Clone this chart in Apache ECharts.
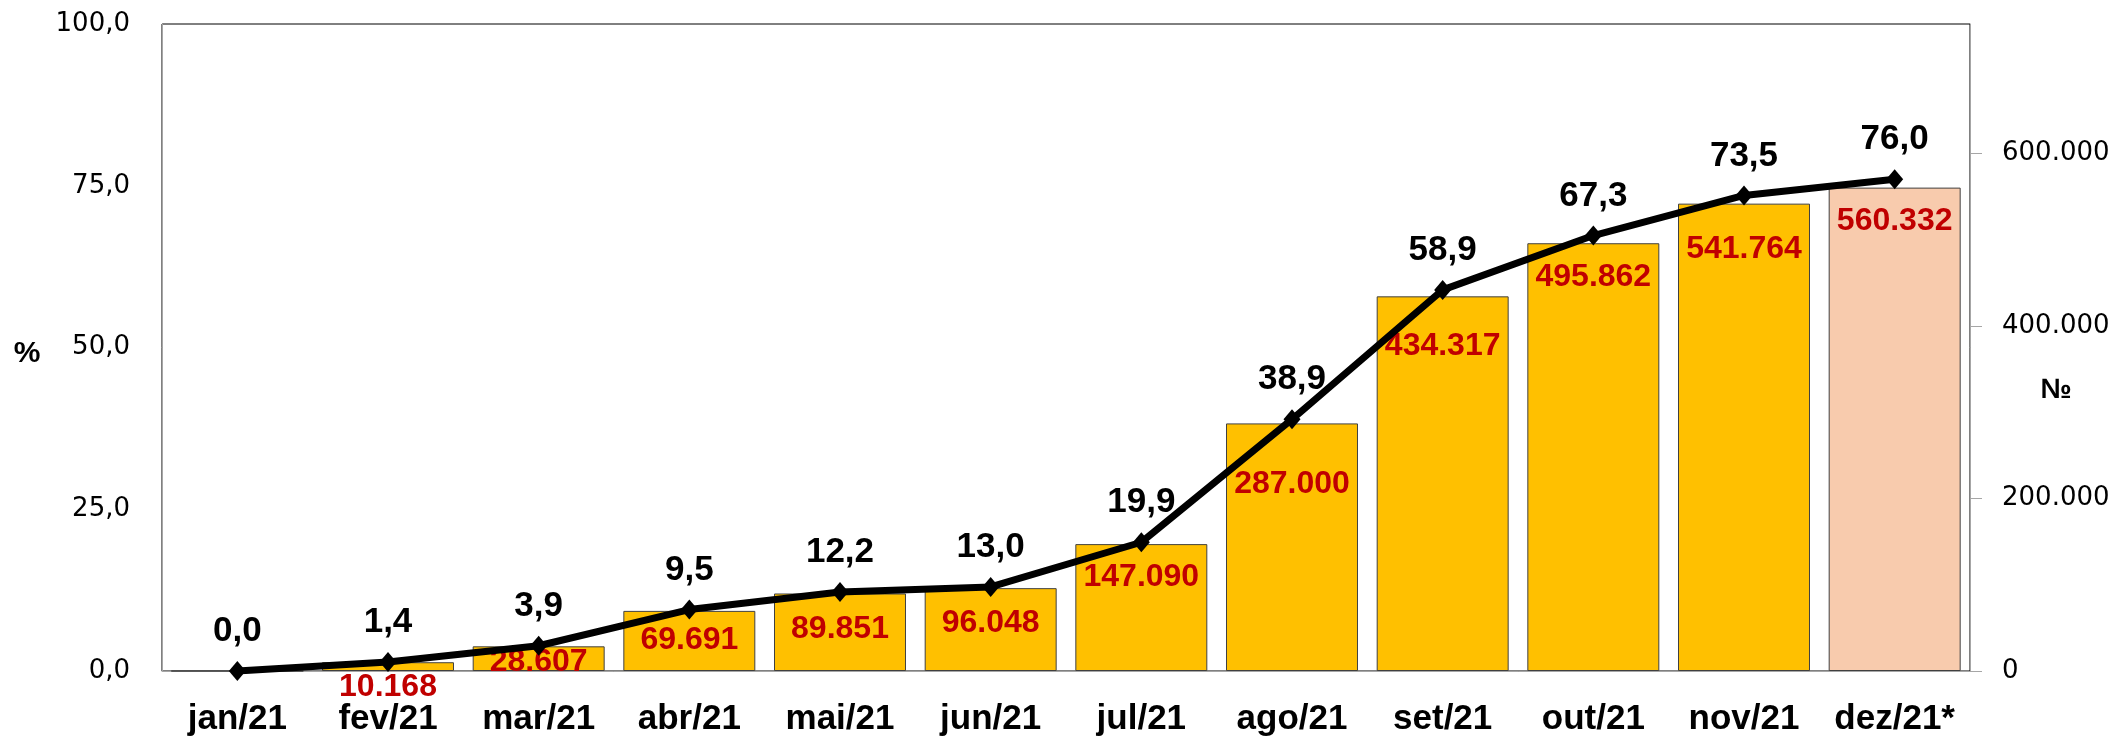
<!DOCTYPE html>
<html>
<head>
<meta charset="utf-8">
<script src="https://cdn.jsdelivr.net/npm/echarts@6/dist/echarts.min.js"></script>
<style>
html,body{margin:0;padding:0;background:#fff;}
#chart{width:2116px;height:739px;}
</style>
</head>
<body>
<div id="chart"></div>
<script>
const categories = ['jan/21','fev/21','mar/21','abr/21','mai/21','jun/21','jul/21','ago/21','set/21','out/21','nov/21','dez/21*'];
const countValues = [0, 10168, 28607, 69691, 89851, 96048, 147090, 287000, 434317, 495862, 541764, 560332];
const percentValues = [0.0, 1.4, 3.9, 9.5, 12.2, 13.0, 19.9, 38.9, 58.9, 67.3, 73.5, 76.0];
const leftTicks = [0, 25, 50, 75, 100];
const rightTicks = [0, 200000, 400000, 600000];

// layout: vertical distance (px) of each bar label centre below the bar top
const barLabelShift = [0, 25, 16, 29, 36, 35, 33, 61, 50, 34, 46, 34];

const fmtPct = v => v.toFixed(1).replace('.', ',');
const fmtNum = v => String(Math.round(v)).replace(/\B(?=(\d{3})+(?!\d))/g, '.');

const LABEL_FONT = 32;
const barData = countValues.map((v, i) => ({
  value: v,
  itemStyle: { color: i === countValues.length - 1 ? '#F8CBAD' : '#FFC000' },
  label: { offset: [0, barLabelShift[i] - LABEL_FONT / 2] }
}));

const chart = echarts.init(document.getElementById('chart'), null, {renderer: 'canvas'});
chart.setOption({
  animation: false,
  backgroundColor: '#ffffff',
  grid: { left: 162, right: 146, top: 24, bottom: 68, show: true, borderColor: '#000', borderWidth: 1, backgroundColor: 'transparent' },
  xAxis: {
    type: 'category',
    data: categories,
    boundaryGap: true,
    axisLine: { lineStyle: { color: '#a6a6a6', width: 1 } },
    axisTick: { show: false },
    axisLabel: { color: '#000', fontFamily: 'Liberation Sans', fontWeight: 'bold', fontSize: 35, margin: 31, interval: 0 }
  },
  yAxis: [
    {
      type: 'value', min: 0, max: 100, interval: 25,
      axisLine: { show: true, lineStyle: { color: '#a6a6a6' } },
      axisTick: { show: false },
      splitLine: { show: false },
      axisLabel: { color: '#000', fontFamily: 'DejaVu Sans', fontSize: 26, margin: 32, formatter: v => fmtPct(v), customValues: leftTicks }
    },
    {
      type: 'value', min: 0, max: 750000, interval: 200000, position: 'right',
      axisLine: { show: true, lineStyle: { color: '#a6a6a6' } },
      axisTick: { show: true, inside: false, length: 12, lineStyle: { color: '#a6a6a6' }, customValues: rightTicks },
      splitLine: { show: false },
      axisLabel: { color: '#000', fontFamily: 'DejaVu Sans', fontSize: 26, margin: 32, formatter: v => fmtNum(v), customValues: rightTicks }
    }
  ],
  graphic: [
    { type: 'text', x: 27, y: 354,
      style: { text: '%', fill: '#000', font: 'bold 30px "Liberation Sans"', align: 'center', verticalAlign: 'middle' } },
    { type: 'text', x: 2056, y: 390,
      style: { text: '№', fill: '#000', font: 'bold 28px "Liberation Sans"', align: 'center', verticalAlign: 'middle' } }
  ],
  series: [
    {
      type: 'bar', yAxisIndex: 1, data: barData,
      barCategoryGap: '12.4%',
      itemStyle: { borderColor: '#404040', borderWidth: 1 },
      label: {
        show: true, position: 'insideTop', distance: 0,
        color: '#C00000', fontFamily: 'Liberation Sans', fontWeight: 'bold', fontSize: LABEL_FONT,
        formatter: p => p.value ? fmtNum(p.value) : ''
      },
      z: 2
    },
    {
      type: 'line', yAxisIndex: 0, data: percentValues,
      symbol: 'diamond', symbolSize: [17, 20],
      lineStyle: { color: '#000', width: 7 },
      itemStyle: { color: '#000' },
      label: {
        show: true, position: 'top', distance: 12,
        color: '#000', fontFamily: 'Liberation Sans', fontWeight: 'bold', fontSize: 35,
        formatter: p => fmtPct(p.value)
      },
      z: 3
    }
  ]
});
</script>
</body>
</html>
